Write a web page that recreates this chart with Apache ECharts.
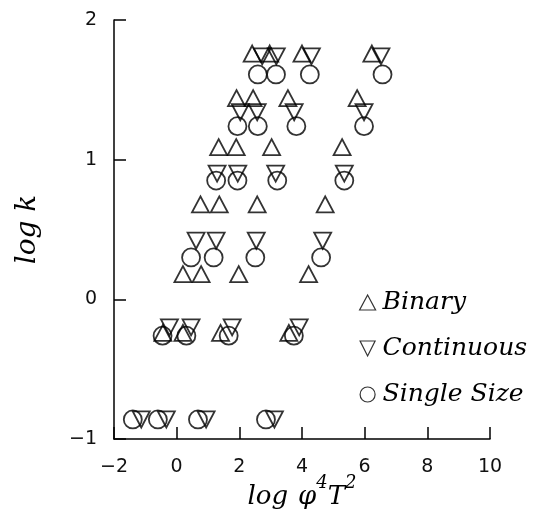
<!DOCTYPE html>
<html>
<head>
<meta charset="utf-8">
<script src="https://cdn.jsdelivr.net/npm/echarts@6.0.0/dist/echarts.min.js"></script>
<style>
  html, body { margin: 0; padding: 0; background: #fff; }
  #chart { width: 539px; height: 514px; }
</style>
</head>
<body>
<div id="chart"></div>
<script>
// points: [log phi^4 T^2, log k]
const binary = [
  [2.41, 1.76], [2.97, 1.76], [4.00, 1.76], [6.23, 1.76],
  [1.91, 1.44], [2.44, 1.44], [3.55, 1.44], [5.76, 1.44],
  [1.34, 1.09], [1.90, 1.09], [3.03, 1.09], [5.28, 1.09],
  [0.76, 0.68], [1.36, 0.68], [2.57, 0.68], [4.74, 0.68],
  [0.20, 0.18], [0.78, 0.18], [1.98, 0.18], [4.21, 0.18],
  [-0.44, -0.24], [0.20, -0.24], [1.40, -0.24], [3.58, -0.24]
]
const continuous = [
  [2.73, 1.74], [3.18, 1.74], [4.30, 1.74], [6.52, 1.74],
  [2.03, 1.34], [2.57, 1.34], [3.75, 1.34], [5.98, 1.34],
  [1.29, 0.90], [1.95, 0.90], [3.16, 0.90], [5.35, 0.90],
  [0.62, 0.42], [1.26, 0.42], [2.54, 0.42], [4.66, 0.42],
  [-0.23, -0.20], [0.46, -0.20], [1.77, -0.20], [3.91, -0.20],
  [-1.13, -0.86], [-0.33, -0.86], [0.94, -0.86], [3.12, -0.86]
]
const singleSize = [
  [2.59, 1.61], [3.17, 1.61], [4.25, 1.61], [6.57, 1.61],
  [1.94, 1.24], [2.59, 1.24], [3.82, 1.24], [5.98, 1.24],
  [1.26, 0.85], [1.94, 0.85], [3.21, 0.85], [5.35, 0.85],
  [0.46, 0.30], [1.18, 0.30], [2.51, 0.30], [4.61, 0.30],
  [-0.45, -0.26], [0.31, -0.26], [1.66, -0.26], [3.74, -0.26],
  [-1.40, -0.86], [-0.60, -0.86], [0.68, -0.86], [2.85, -0.86]
]
const seriesNames = ['Binary', 'Continuous', 'Single Size']

const downTriangle = 'path://M0,0L2,0L1,2Z'
const ink = '#000'
const serif = 'DejaVu Serif'

const chart = echarts.init(document.getElementById('chart'), null, { renderer: 'canvas' })

const hollow = {
  color: 'transparent',
  borderColor: ink,
  borderWidth: 1.8
}

function minusSign(v) {
  return String(v).replace('-', '\u2212')
}

chart.setOption({
  animation: false,
  backgroundColor: '#fff',
  grid: {
    left: 114,
    top: 20,
    width: 376,
    height: 419,
    outerBoundsMode: 'none'
  },
  legend: {
    orient: 'vertical',
    left: 354,
    top: 285,
    itemWidth: 16,
    itemHeight: 15,
    itemGap: 21,
    itemStyle: { borderWidth: 1.2 },
    formatter: name => '{t|' + name + '}',
    textStyle: {
      rich: {
        t: {
          fontFamily: serif,
          fontStyle: 'italic',
          fontSize: 25,
          lineHeight: 22,
          color: ink,
          padding: [0, 0, 0, 2]
        }
      }
    },
    data: [
      { name: seriesNames[0], icon: 'triangle' },
      { name: seriesNames[1], icon: downTriangle },
      { name: seriesNames[2], icon: 'circle' }
    ]
  },
  xAxis: {
    type: 'value',
    min: -2,
    max: 10,
    interval: 2,
    name: '{i|log}{g|φ}{s|4}{i|T}{s|2}',
    nameLocation: 'middle',
    nameGap: 35,
    nameMoveOverlap: false,
    nameTextStyle: {
      rich: {
        i: { fontFamily: serif, fontStyle: 'italic', fontSize: 26, lineHeight: 46, color: ink },
        g: { fontFamily: serif, fontStyle: 'italic', fontSize: 26, lineHeight: 46, color: ink, padding: [0, 0, 0, 10] },
        s: { fontFamily: serif, fontStyle: 'italic', fontSize: 18, lineHeight: 18, verticalAlign: 'top', color: ink }
      }
    },
    axisLine: { onZero: false, lineStyle: { color: ink, width: 1.5 } },
    axisTick: { inside: true, length: 12, lineStyle: { color: ink, width: 1.5 } },
    axisLabel: {
      margin: 19,
      fontFamily: 'DejaVu Sans',
      fontSize: 19,
      color: '#111',
      formatter: minusSign
    },
    splitLine: { show: false }
  },
  yAxis: {
    type: 'value',
    min: -1,
    max: 2,
    interval: 1,
    name: 'log k',
    nameLocation: 'middle',
    nameRotate: 90,
    nameGap: 72,
    nameMoveOverlap: false,
    nameTextStyle: {
      fontFamily: serif,
      fontStyle: 'italic',
      fontSize: 28,
      color: ink
    },
    axisLine: { onZero: false, lineStyle: { color: ink, width: 1.5 } },
    axisTick: { inside: true, length: 12, lineStyle: { color: ink, width: 1.5 } },
    axisLabel: {
      margin: 17,
      fontFamily: 'DejaVu Sans',
      fontSize: 19,
      color: '#111',
      formatter: minusSign
    },
    splitLine: { show: false }
  },
  series: [
    {
      name: seriesNames[0],
      type: 'scatter',
      symbol: 'triangle',
      symbolSize: [17, 16],
      itemStyle: hollow,
      data: binary
    },
    {
      name: seriesNames[1],
      type: 'scatter',
      symbol: downTriangle,
      symbolSize: [17, 16],
      itemStyle: hollow,
      data: continuous
    },
    {
      name: seriesNames[2],
      type: 'scatter',
      symbol: 'circle',
      symbolSize: 18,
      itemStyle: hollow,
      data: singleSize
    }
  ]
})
</script>
</body>
</html>
